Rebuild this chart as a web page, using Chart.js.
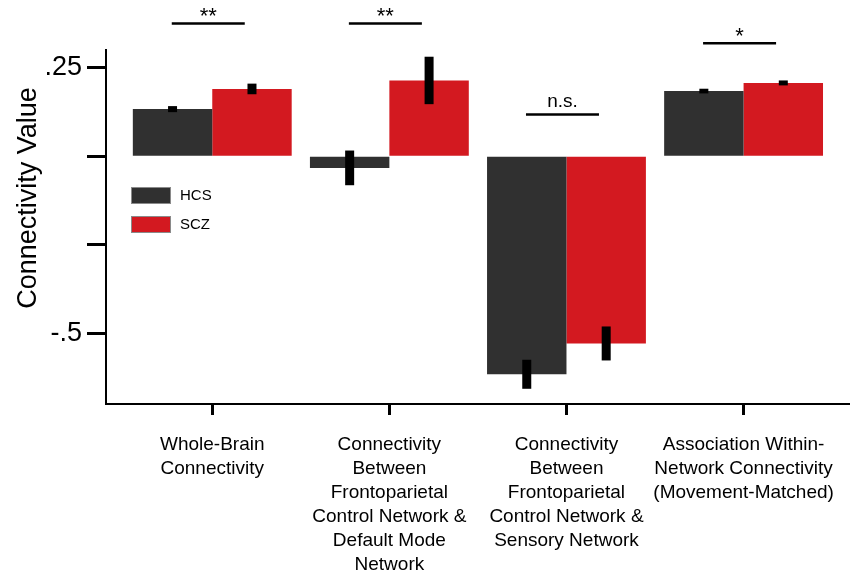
<!DOCTYPE html>
<html>
<head>
<meta charset="utf-8">
<script src="https://cdn.jsdelivr.net/npm/chart.js@4/dist/chart.umd.min.js"></script>
<style>
  html, body { margin: 0; padding: 0; background: #fff; }
  canvas { display: block; }
</style>
</head>
<body>
<canvas id="chart" width="852" height="571"></canvas>
<script>
// Category labels (one array of lines per group)
const categories = [
  ['Whole-Brain', 'Connectivity'],
  ['Connectivity', 'Between', 'Frontoparietal', 'Control Network &', 'Default Mode', 'Network'],
  ['Connectivity', 'Between', 'Frontoparietal', 'Control Network &', 'Sensory Network'],
  ['Association Within-', 'Network Connectivity', '(Movement-Matched)']
];
const groups = ['HCS', 'SCZ'];
const hcsMeans = [0.133, -0.033, -0.616, 0.184];
const hcsErrors = [0.0085, 0.049, 0.041, 0.0066];
const sczMeans = [0.190, 0.214, -0.529, 0.207];
const sczErrors = [0.015, 0.067, 0.048, 0.007];
const significance = ['**', '**', 'n.s.', '*'];
const bracketHeights = [0.375, 0.375, 0.118, 0.319];
const yTicks = [0.25, 0, -0.25, -0.5];
const yTickLabels = ['.25', '', '', '-.5'];

const FONT = "'Liberation Sans', Arial, Helvetica, sans-serif";
const colors = ['#303030', '#d31920'];
const means = [hcsMeans, sczMeans];
const errors = [hcsErrors, sczErrors];

const datasets = groups.map((g, k) => ({
  label: g,
  data: means[k].map((v, i) => ({ x: i + 1, y: v })),
  backgroundColor: colors[k],
  borderWidth: 0,
  categoryPercentage: 0.897,
  barPercentage: 1.0,
  errors: errors[k]
}));

// Thick black error bars centred on each bar
const errorBars = {
  id: 'errorBars',
  afterDatasetsDraw(chart) {
    const ctx = chart.ctx;
    const y = chart.scales.y;
    ctx.save();
    ctx.fillStyle = '#000';
    chart.data.datasets.forEach((ds, k) => {
      const meta = chart.getDatasetMeta(k);
      meta.data.forEach((bar, i) => {
        const m = ds.data[i].y, e = ds.errors[i];
        const top = y.getPixelForValue(m + e);
        const bot = y.getPixelForValue(m - e);
        ctx.fillRect(bar.x - 4.5, top, 9, bot - top);
      });
    });
    ctx.restore();
  }
};

// Significance brackets above each group
const brackets = {
  id: 'brackets',
  afterDraw(chart) {
    const ctx = chart.ctx;
    const xs = chart.scales.x, ys = chart.scales.y;
    ctx.save();
    ctx.strokeStyle = '#000';
    ctx.fillStyle = '#000';
    ctx.lineWidth = 2.5;
    significance.forEach((txt, i) => {
      const cx = xs.getPixelForValue(i + 1) - 4;
      const ly = ys.getPixelForValue(bracketHeights[i]);
      ctx.beginPath();
      ctx.moveTo(cx - 36.5, ly);
      ctx.lineTo(cx + 36.5, ly);
      ctx.stroke();
      ctx.font = (txt === 'n.s.' ? '19px ' : '22px ') + FONT;
      ctx.textAlign = 'center';
      ctx.textBaseline = 'alphabetic';
      const m = ctx.measureText(txt);
      ctx.fillText(txt, cx, ly - 7 - m.actualBoundingBoxDescent);
    });
    ctx.restore();
  }
};

// Legend inside the plot area and the rotated y-axis title
const extras = {
  id: 'extras',
  afterDraw(chart) {
    const ctx = chart.ctx;
    const area = chart.chartArea;
    ctx.save();
    chart.data.datasets.forEach((ds, k) => {
      const bx = area.left + 25, by = area.top + 137 + k * 29;
      ctx.fillStyle = ds.backgroundColor;
      ctx.fillRect(bx, by, 40, 17);
      ctx.strokeStyle = '#8a8a8a';
      ctx.lineWidth = 1;
      ctx.strokeRect(bx + 0.5, by + 0.5, 39, 16);
      ctx.fillStyle = '#000';
      ctx.font = '15px ' + FONT;
      ctx.textAlign = 'left';
      ctx.textBaseline = 'middle';
      ctx.fillText(ds.label, bx + 49, by + 9);
    });
    ctx.translate(29, 198);
    ctx.rotate(-Math.PI / 2);
    ctx.font = '27px ' + FONT;
    ctx.textAlign = 'center';
    ctx.textBaseline = 'middle';
    ctx.fillStyle = '#000';
    ctx.fillText('Connectivity Value', 0, 0);
    ctx.restore();
  }
};

new Chart(document.getElementById('chart'), {
  type: 'bar',
  data: { datasets },
  options: {
    responsive: false,
    devicePixelRatio: 1,
    animation: false,
    layout: { padding: { top: 50, right: 1, left: 0, bottom: 0 } },
    plugins: { legend: { display: false }, tooltip: { enabled: false } },
    scales: {
      x: {
        type: 'linear',
        offset: false,
        min: 0.4,
        max: 4.6,
        afterBuildTicks: s => { s.ticks = categories.map((_, i) => ({ value: i + 1 })); },
        afterFit: s => { s.height = 167; },
        ticks: {
          callback: (v, i) => categories[i],
          font: { family: FONT, size: 19, lineHeight: 1.26 },
          color: '#000',
          padding: 18,
          maxRotation: 0,
          autoSkip: false
        },
        grid: { offset: false, drawOnChartArea: false, drawTicks: true, tickLength: 11, tickWidth: 3, tickColor: '#000' },
        border: { color: '#000', width: 2 }
      },
      y: {
        min: -0.7,
        max: 0.3,
        afterBuildTicks: s => { s.ticks = yTicks.map(v => ({ value: v })); },
        afterFit: s => { s.width = 106; },
        ticks: {
          callback: (v, i) => yTickLabels[i],
          font: { family: FONT, size: 27 },
          color: '#000',
          padding: 5
        },
        grid: { drawOnChartArea: false, drawTicks: true, tickLength: 19, tickWidth: 3, tickColor: '#000' },
        border: { color: '#000', width: 2 }
      }
    }
  },
  plugins: [errorBars, brackets, extras]
});
</script>
</body>
</html>
